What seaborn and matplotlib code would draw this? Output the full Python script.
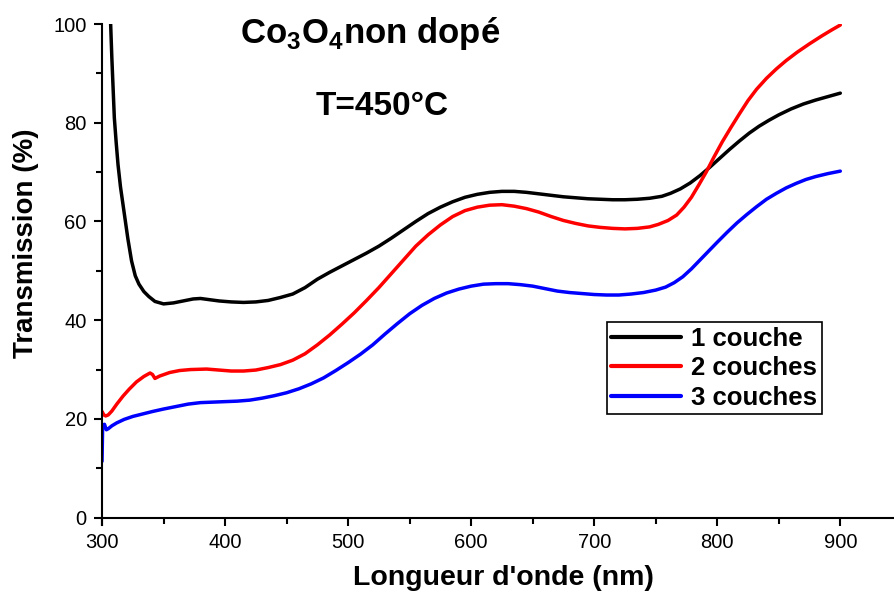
import numpy as np
import pandas as pd
import matplotlib
matplotlib.use("Agg")
import matplotlib.pyplot as plt
from matplotlib.ticker import MultipleLocator
import seaborn as sns

# transmission spectra
wl_1 = [307, 308, 309, 310, 311.5, 313, 315, 317, 319, 321, 324, 327, 330, 334, 338, 343,
        350, 358, 366, 374, 380, 386, 395, 405, 415, 425, 435, 445, 455, 465, 475, 485,
        495, 505, 515, 525, 535, 545, 555, 565, 575, 585, 595, 605, 615, 625, 635, 645,
        655, 665, 675, 685, 695, 705, 715, 725, 735, 745, 755, 762, 770, 778, 786, 794,
        802, 810, 818, 826, 834, 842, 850, 860, 870, 880, 890, 900]
t_1 = [100, 93, 87, 81, 76, 71.5, 67, 63.5, 60, 56.5, 52, 49, 47.3, 45.8, 44.8, 43.8,
       43.3, 43.5, 43.9, 44.3, 44.4, 44.2, 43.9, 43.7, 43.6, 43.7, 44.0, 44.6, 45.3, 46.6, 48.3, 49.7,
       51.0, 52.3, 53.6, 55.0, 56.6, 58.3, 60.0, 61.6, 62.9, 64.0, 64.9, 65.5, 65.9, 66.1, 66.1, 65.9,
       65.6, 65.3, 65.0, 64.8, 64.6, 64.5, 64.4, 64.4, 64.5, 64.7, 65.1, 65.7, 66.6, 67.8, 69.3, 71.0,
       72.8, 74.6, 76.3, 77.9, 79.3, 80.5, 81.6, 82.8, 83.8, 84.6, 85.3, 86.0]

wl_2 = [300, 301.5, 303, 305, 308, 312, 317, 322, 328, 334, 339, 341, 343, 347, 355, 363,
        372, 385, 395, 405, 415, 425, 435, 445, 455, 465, 475, 485, 495, 505, 515, 525,
        535, 545, 555, 565, 575, 585, 595, 605, 615, 625, 635, 645, 655, 665, 675, 685,
        695, 705, 715, 725, 735, 745, 752, 760, 767, 773, 779, 785, 791, 797, 804, 811,
        818, 825, 832, 840, 848, 856, 865, 875, 885, 893, 900]
t_2 = [21.5, 20.8, 20.6, 20.8, 21.6, 23.0, 24.6, 26.0, 27.5, 28.6, 29.3, 29.0, 28.2, 28.7, 29.4, 29.8,
       30.0, 30.1, 29.9, 29.7, 29.7, 29.9, 30.4, 31.0, 31.9, 33.2, 35.0, 37.0, 39.2, 41.5, 44.0, 46.6,
       49.4, 52.2, 55.0, 57.3, 59.3, 61.0, 62.2, 62.9, 63.3, 63.4, 63.1, 62.6, 61.9, 61.0, 60.2, 59.6,
       59.1, 58.8, 58.6, 58.5, 58.6, 58.9, 59.4, 60.2, 61.3, 62.9, 64.9, 67.4, 70.0, 72.9, 76.1, 79.0,
       81.8, 84.5, 86.8, 89.0, 90.9, 92.6, 94.3, 96.0, 97.6, 98.8, 99.8]

wl_3 = [300, 300.5, 302, 303.5, 305, 308, 312, 318, 325, 333, 341, 350, 360, 370, 380, 390,
        400, 410, 420, 430, 440, 450, 460, 470, 480, 490, 500, 510, 520, 530, 540, 550,
        560, 570, 580, 590, 600, 610, 620, 630, 640, 650, 660, 670, 680, 690, 700, 710,
        720, 730, 740, 750, 758, 765, 772, 779, 786, 793, 800, 808, 816, 824, 832, 840,
        848, 856, 864, 872, 880, 890, 900]
t_3 = [11.4, 18.8, 18.9, 17.8, 18.0, 18.6, 19.2, 19.9, 20.5, 21.0, 21.5, 22.0, 22.5, 23.0, 23.3, 23.4,
       23.5, 23.6, 23.8, 24.2, 24.7, 25.3, 26.1, 27.1, 28.3, 29.8, 31.4, 33.1, 35.0, 37.2, 39.3, 41.3,
       43.0, 44.4, 45.5, 46.3, 46.9, 47.3, 47.4, 47.4, 47.2, 46.9, 46.4, 45.9, 45.6, 45.4, 45.2, 45.1,
       45.1, 45.3, 45.6, 46.1, 46.7, 47.6, 48.8, 50.4, 52.2, 54.0, 55.8, 57.8, 59.7, 61.4, 63.0, 64.5,
       65.7, 66.8, 67.7, 68.5, 69.1, 69.7, 70.2]

labels = ["1 couche", "2 couches", "3 couches"]
colors = ["black", "red", "blue"]

df = pd.concat([
    pd.DataFrame({"wl": wl_1, "T": t_1, "serie": labels[0]}),
    pd.DataFrame({"wl": wl_2, "T": t_2, "serie": labels[1]}),
    pd.DataFrame({"wl": wl_3, "T": t_3, "serie": labels[2]}),
])

sns.set_style("ticks")
plt.rcParams["font.family"] = ["Liberation Sans", "DejaVu Sans"]
plt.rcParams["mathtext.fontset"] = "custom"
plt.rcParams["mathtext.rm"] = "Liberation Sans"
plt.rcParams["mathtext.bf"] = "Liberation Sans:bold"
plt.rcParams["text.color"] = "black"
plt.rcParams["axes.labelcolor"] = "black"

fig = plt.figure(figsize=(8.95, 5.95), dpi=100)
ax = fig.add_axes([0.114, 0.1176, 0.884, 0.842])

sns.lineplot(data=df, x="wl", y="T", hue="serie", palette=colors, linewidth=2.5,
             sort=False, estimator=None, ax=ax)

ax.set_xlim(300, 943)
ax.set_ylim(-1.5, 100)
ax.spines["top"].set_visible(False)
ax.spines["right"].set_visible(False)
ax.spines["bottom"].set_position(("data", 0))
for s in ("left", "bottom"):
    ax.spines[s].set_linewidth(1.5)
    ax.spines[s].set_color("black")

ax.xaxis.set_major_locator(MultipleLocator(100))
ax.xaxis.set_minor_locator(MultipleLocator(50))
ax.yaxis.set_major_locator(MultipleLocator(20))
ax.yaxis.set_minor_locator(MultipleLocator(10))
ax.tick_params(which="major", direction="out", length=6, width=1.5, labelsize=14.5,
               colors="black", pad=5)
ax.tick_params(which="minor", direction="out", length=4, width=1.5, colors="black")
ax.set_xticks([300, 400, 500, 600, 700, 800, 900])

ax.set_xlabel("Longueur d'onde (nm)", fontsize=20.5, fontweight="bold")
ax.set_ylabel("Transmission (%)", fontsize=20, fontweight="bold")
ax.xaxis.set_label_coords(0.507, -0.08)
ax.yaxis.set_label_coords(-0.08, 0.563)

ax.text(518, 98.0, r"Co$_\mathbf{3}$O$_\mathbf{4}$non dopé", fontsize=25, fontweight="bold",
        ha="center", va="center")
ax.text(528, 83.2, "T=450°C", fontsize=24, fontweight="bold", ha="center", va="center")

leg = ax.legend(loc="upper left", bbox_to_anchor=(0.678, 0.459), bbox_transform=fig.transFigure,
                frameon=True, fancybox=False, edgecolor="black", framealpha=1,
                prop={"weight": "bold", "size": 18.5}, handlelength=2.7, handletextpad=0.4,
                labelspacing=0.22, borderpad=0.18, borderaxespad=0)
leg.get_frame().set_linewidth(1.2)
for line in leg.get_lines():
    line.set_linewidth(3)

fig.savefig("out.png", dpi=100)
